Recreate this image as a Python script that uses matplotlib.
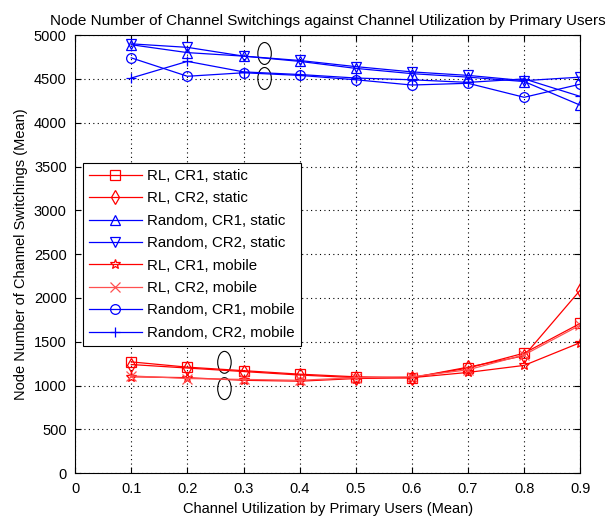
import matplotlib.pyplot as plt
from matplotlib.patches import Ellipse

plt.rcParams['font.family'] = ['Liberation Sans', 'DejaVu Sans']
plt.rcParams['font.size'] = 10.5

# channel utilization by primary users (mean)
utilization = [0.1, 0.2, 0.3, 0.4, 0.5, 0.6, 0.7, 0.8, 0.9]

# mean number of channel switchings per node
rl_cr1_static = [1270, 1210, 1170, 1130, 1100, 1090, 1200, 1370, 1710]
rl_cr2_static = [1240, 1200, 1160, 1120, 1090, 1090, 1210, 1340, 2090]
rand_cr1_static = [4890, 4800, 4760, 4700, 4620, 4560, 4520, 4470, 4200]
rand_cr2_static = [4900, 4860, 4760, 4710, 4640, 4580, 4540, 4480, 4520]
rl_cr1_mobile = [1100, 1090, 1060, 1050, 1080, 1090, 1150, 1230, 1490]
rl_cr2_mobile = [1110, 1080, 1070, 1060, 1090, 1100, 1180, 1350, 1690]
rand_cr1_mobile = [4740, 4530, 4570, 4540, 4490, 4430, 4450, 4290, 4440]
rand_cr2_mobile = [4510, 4700, 4580, 4550, 4510, 4490, 4460, 4500, 4300]

series = [
    ('RL, CR1, static', rl_cr1_static, '#ff0000', 's'),
    ('RL, CR2, static', rl_cr2_static, '#ff0000', 'd'),
    ('Random, CR1, static', rand_cr1_static, '#0000ff', '^'),
    ('Random, CR2, static', rand_cr2_static, '#0000ff', 'v'),
    ('RL, CR1, mobile', rl_cr1_mobile, '#ff0000', '*'),
    ('RL, CR2, mobile', rl_cr2_mobile, '#ff5050', 'x'),
    ('Random, CR1, mobile', rand_cr1_mobile, '#0000ff', 'o'),
    ('Random, CR2, mobile', rand_cr2_mobile, '#0000ff', '+'),
]

fig = plt.figure(figsize=(6.16, 5.16), dpi=100)
ax = fig.add_axes([0.122, 0.083, 0.820, 0.849])

for label, vals, color, marker in series:
    ax.plot(utilization, vals, color=color, marker=marker, markersize=7,
            markerfacecolor='none', markeredgewidth=0.9, linewidth=0.9,
            label=label)

# ellipses grouping the static / mobile curves
for cx, cy in [(0.3375, 4790), (0.3375, 4505), (0.266, 1265), (0.266, 965)]:
    ax.add_patch(Ellipse((cx, cy), 0.024, 250, fill=False,
                         edgecolor='black', linewidth=0.8))

ax.set_xlim(0, 0.9)
ax.set_ylim(0, 5000)
ax.set_xticks([0, 0.1, 0.2, 0.3, 0.4, 0.5, 0.6, 0.7, 0.8, 0.9])
ax.set_xticklabels(['0', '0.1', '0.2', '0.3', '0.4', '0.5', '0.6', '0.7', '0.8', '0.9'])
ax.set_yticks(range(0, 5001, 500))
ax.grid(True, linestyle=(0, (1, 3)), color='black', linewidth=0.8)
ax.tick_params(direction='in', top=True, right=True, length=4, pad=6)

ax.set_title('Node Number of Channel Switchings against Channel Utilization by Primary Users',
             fontsize=11, pad=7)
ax.set_xlabel('Channel Utilization by Primary Users (Mean)', labelpad=5)
ax.set_ylabel('Node Number of Channel Switchings (Mean)', labelpad=4)

leg = ax.legend(loc='upper left', bbox_to_anchor=(0.016, 0.708), fancybox=False,
                edgecolor='black', framealpha=1, borderaxespad=0,
                handlelength=3.5, handletextpad=0.35, labelspacing=0.56,
                borderpad=0.4, prop={'size': 10.8})
leg.get_frame().set_linewidth(0.8)

fig.savefig('out.png', dpi=100)
